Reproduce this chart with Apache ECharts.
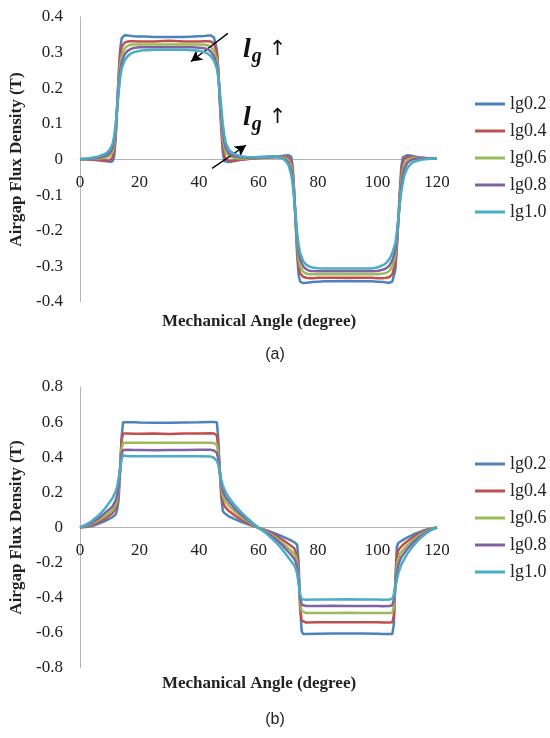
<!DOCTYPE html>
<html><head><meta charset="utf-8">
<script src="https://cdn.jsdelivr.net/npm/echarts@6/dist/echarts.min.js"></script>
<style>html,body{margin:0;padding:0;background:#fff}#c{width:550px;height:738px}</style>
</head><body><div id="c"></div>
<script>
const seriesNames = ['lg0.2', 'lg0.4', 'lg0.6', 'lg0.8', 'lg1.0'];
const seriesColors = ['#4F81BD', '#C0504D', '#9BBB59', '#8064A2', '#4BACC6'];

// ---- chart (a) ----
const xA = [0,2,4,6,8,9,10,11,11.5,12,12.5,13,13.5,14,15,16,17,18,20,22,25,30,
  35,38,40,42,43,44,45,46,46.5,47,47.5,48,48.5,49,50,51,52,54,56,58,60,
  62,64,66,68,69,70,71,71.5,72,72.5,73,73.5,74,75,76,77,78,80,82,85,90,
  95,98,100,102,103,104,105,106,106.5,107,107.5,108,108.5,109,110,111,112,114,116,118,120];
const aLg02 = [0,0,-0.001,-0.002,-0.004,-0.005,-0.006,-0.005,0.01,0.06,0.15,0.24,0.31,0.34,0.349,0.348,0.347,0.346,0.345,0.345,0.344,0.344,
  0.344,0.345,0.346,0.347,0.348,0.348,0.343,0.31,0.25,0.16,0.08,0.02,-0.004,-0.007,-0.007,-0.006,-0.004,-0.001,0.002,0.003,0.004,
  0.005,0.006,0.008,0.010,0.011,0.012,0.008,-0.02,-0.09,-0.18,-0.27,-0.325,-0.343,-0.347,-0.346,-0.345,-0.344,-0.343,-0.342,-0.342,-0.341,
  -0.342,-0.342,-0.343,-0.344,-0.345,-0.346,-0.342,-0.31,-0.25,-0.17,-0.09,-0.02,0.006,0.011,0.012,0.011,0.009,0.006,0.004,0.003,0.003];
const aLg04 = [0,0,0,-0.001,-0.003,-0.003,-0.002,0.006,0.025,0.07,0.15,0.23,0.29,0.316,0.328,0.331,0.332,0.332,0.331,0.331,0.331,0.333,
  0.331,0.331,0.331,0.332,0.332,0.331,0.326,0.30,0.25,0.17,0.095,0.04,0.012,0.001,-0.003,-0.004,-0.003,-0.001,0.001,0.003,0.004,
  0.005,0.006,0.007,0.008,0.008,0.006,-0.005,-0.03,-0.095,-0.175,-0.25,-0.3,-0.32,-0.329,-0.332,-0.333,-0.333,-0.332,-0.332,-0.332,-0.332,
  -0.332,-0.332,-0.333,-0.333,-0.332,-0.33,-0.322,-0.29,-0.24,-0.17,-0.1,-0.04,-0.01,0.002,0.006,0.007,0.007,0.005,0.004,0.003,0.003];
const aLg06 = [0,0.001,0.002,0.003,0.004,0.006,0.01,0.022,0.04,0.08,0.145,0.215,0.265,0.292,0.312,0.319,0.322,0.323,0.323,0.323,0.323,0.323,
  0.323,0.323,0.323,0.322,0.32,0.316,0.305,0.28,0.24,0.175,0.11,0.06,0.035,0.02,0.01,0.006,0.004,0.003,0.003,0.004,0.005,
  0.006,0.007,0.007,0.006,0.004,-0.002,-0.018,-0.045,-0.1,-0.17,-0.235,-0.278,-0.3,-0.315,-0.32,-0.322,-0.322,-0.322,-0.322,-0.322,-0.322,
  -0.322,-0.322,-0.322,-0.32,-0.318,-0.313,-0.3,-0.27,-0.23,-0.17,-0.11,-0.06,-0.03,-0.014,-0.002,0.003,0.004,0.004,0.003,0.003,0.003];
const aLg08 = [0.001,0.002,0.003,0.005,0.009,0.012,0.018,0.033,0.053,0.09,0.145,0.2,0.245,0.272,0.295,0.305,0.31,0.313,0.315,0.315,0.315,0.315,
  0.315,0.315,0.314,0.312,0.309,0.303,0.29,0.265,0.235,0.18,0.125,0.08,0.05,0.032,0.018,0.012,0.009,0.006,0.005,0.005,0.006,
  0.007,0.008,0.007,0.004,0.0,-0.008,-0.03,-0.058,-0.105,-0.165,-0.22,-0.258,-0.28,-0.3,-0.308,-0.312,-0.313,-0.314,-0.314,-0.314,-0.314,
  -0.314,-0.314,-0.313,-0.309,-0.305,-0.298,-0.283,-0.255,-0.22,-0.17,-0.12,-0.075,-0.045,-0.027,-0.01,-0.003,0.001,0.003,0.003,0.003,0.003];
const aLg10 = [0.002,0.003,0.005,0.008,0.014,0.019,0.027,0.045,0.066,0.1,0.145,0.19,0.228,0.255,0.278,0.29,0.297,0.301,0.305,0.307,0.308,0.308,
  0.308,0.307,0.305,0.301,0.297,0.29,0.278,0.255,0.23,0.19,0.145,0.1,0.068,0.047,0.028,0.02,0.015,0.009,0.007,0.006,0.007,
  0.008,0.009,0.008,0.003,-0.003,-0.014,-0.042,-0.07,-0.112,-0.16,-0.205,-0.24,-0.262,-0.285,-0.295,-0.3,-0.303,-0.305,-0.306,-0.306,-0.306,
  -0.306,-0.306,-0.303,-0.296,-0.29,-0.28,-0.262,-0.235,-0.205,-0.165,-0.125,-0.09,-0.065,-0.045,-0.025,-0.014,-0.007,-0.002,0.001,0.002,0.003];

// ---- chart (b) ----
const xB = [0,2,4,6,8,10,11,12,12.5,13,13.5,14,14.5,15,16,18,20,25,30,35,40,44,45,46,46.5,47,47.5,48,48.5,49,50,52,54,56,58,60,
  62,64,66,68,70,71,72,72.5,73,73.5,74,74.5,75,76,80,85,90,95,100,102,104,105,105.5,106,106.5,107,107.5,108,109,110,112,114,116,118,120];
const bLg02 = [0,0.003,0.008,0.02,0.033,0.05,0.06,0.075,0.1,0.16,0.33,0.52,0.6,0.601,0.6,0.599,0.598,0.597,0.596,0.598,0.599,0.601,0.601,0.6,0.5,0.32,0.17,0.095,0.082,0.075,0.064,0.048,0.034,0.021,0.009,-0.002,
  -0.012,-0.024,-0.037,-0.051,-0.066,-0.074,-0.083,-0.088,-0.098,-0.2,-0.45,-0.59,-0.606,-0.606,-0.605,-0.604,-0.603,-0.604,-0.605,-0.606,-0.606,-0.606,-0.55,-0.3,-0.11,-0.088,-0.082,-0.077,-0.066,-0.057,-0.04,-0.026,-0.014,-0.006,0];
const bLg04 = [0,0.007,0.016,0.03,0.046,0.068,0.083,0.11,0.14,0.2,0.35,0.5,0.535,0.536,0.535,0.534,0.534,0.535,0.532,0.535,0.535,0.536,0.535,0.525,0.45,0.32,0.2,0.145,0.125,0.113,0.095,0.068,0.047,0.03,0.013,-0.002,
  -0.014,-0.03,-0.047,-0.068,-0.093,-0.105,-0.118,-0.128,-0.16,-0.27,-0.45,-0.53,-0.54,-0.541,-0.54,-0.54,-0.539,-0.54,-0.54,-0.541,-0.541,-0.54,-0.5,-0.32,-0.17,-0.13,-0.118,-0.108,-0.092,-0.078,-0.055,-0.035,-0.019,-0.008,0];
const bLg06 = [0,0.01,0.022,0.04,0.06,0.085,0.1,0.13,0.16,0.22,0.33,0.45,0.482,0.483,0.483,0.482,0.482,0.482,0.482,0.482,0.482,0.482,0.48,0.47,0.42,0.32,0.23,0.18,0.16,0.145,0.125,0.09,0.062,0.04,0.018,-0.002,
  -0.017,-0.037,-0.06,-0.087,-0.118,-0.133,-0.15,-0.165,-0.2,-0.28,-0.42,-0.475,-0.486,-0.487,-0.487,-0.487,-0.486,-0.487,-0.487,-0.487,-0.487,-0.485,-0.45,-0.33,-0.22,-0.175,-0.155,-0.14,-0.12,-0.1,-0.07,-0.045,-0.025,-0.01,0];
const bLg08 = [0,0.013,0.028,0.05,0.077,0.105,0.122,0.155,0.185,0.24,0.33,0.42,0.441,0.443,0.442,0.441,0.441,0.44,0.441,0.441,0.442,0.442,0.438,0.425,0.39,0.32,0.255,0.21,0.188,0.172,0.148,0.108,0.075,0.048,0.022,-0.002,
  -0.02,-0.044,-0.07,-0.1,-0.138,-0.156,-0.178,-0.195,-0.23,-0.3,-0.4,-0.44,-0.446,-0.447,-0.447,-0.446,-0.447,-0.447,-0.447,-0.448,-0.447,-0.443,-0.41,-0.33,-0.26,-0.215,-0.19,-0.17,-0.145,-0.122,-0.085,-0.055,-0.03,-0.012,0];
const bLg10 = [0,0.017,0.037,0.065,0.1,0.145,0.17,0.205,0.235,0.28,0.34,0.39,0.412,0.409,0.406,0.405,0.405,0.405,0.406,0.405,0.405,0.404,0.397,0.38,0.355,0.31,0.272,0.24,0.218,0.2,0.172,0.127,0.09,0.058,0.027,-0.002,
  -0.025,-0.055,-0.087,-0.125,-0.17,-0.192,-0.215,-0.235,-0.265,-0.32,-0.38,-0.408,-0.415,-0.412,-0.41,-0.41,-0.409,-0.41,-0.41,-0.411,-0.41,-0.405,-0.38,-0.34,-0.3,-0.26,-0.235,-0.212,-0.18,-0.15,-0.105,-0.067,-0.037,-0.015,0];

// axis ranges / ticks
const xTicks = {min: 0, max: 120, interval: 20};
const yTicksA = {min: -0.4, max: 0.4, interval: 0.1};
const yTicksB = {min: -0.8, max: 0.8, interval: 0.2};

// annotation arrows in (a), in data coordinates [deg, T]
const arrowsA = [
  [[49.7, 0.354], [37.3, 0.275]],
  [[44.4, -0.025], [55.8, 0.040]]
];
const labelsA = [[54.6, 0.309], [54.6, 0.117]];

const seriesA = [aLg02, aLg04, aLg06, aLg08, aLg10];
const seriesB = [bLg02, bLg04, bLg06, bLg08, bLg10];

const serif = 'Liberation Serif';
const axisGray = '#b4b4b4';
const textCol = '#222';

const gridA = {left: 80, top: 17, width: 357, height: 285};
const gridB = {left: 80, top: 387, width: 357, height: 281};

// the x axis sits on the y = 0 line
function xAxisCfg(gi, g, t) {
  const zeroFromBottom = g.height * (0 - t.min) / (t.max - t.min);
  return {
    gridIndex: gi, type: 'value', min: xTicks.min, max: xTicks.max, interval: xTicks.interval,
    position: 'bottom', offset: -zeroFromBottom,
    axisLine: {show: true, onZero: false, lineStyle: {color: axisGray, width: 1}},
    axisTick: {show: false}, splitLine: {show: false},
    axisLabel: {margin: 15, fontFamily: serif, fontSize: 17, color: textCol}
  };
}
function yAxisCfg(gi, t) {
  return {
    gridIndex: gi, type: 'value', min: t.min, max: t.max, interval: t.interval,
    axisLine: {show: true, onZero: false, lineStyle: {color: axisGray, width: 1}},
    axisTick: {show: false}, splitLine: {show: false},
    axisLabel: {margin: 17, fontFamily: serif, fontSize: 17, color: textCol},
    name: 'Airgap Flux Density (T)', nameLocation: 'middle', nameGap: 50,
    nameTextStyle: {fontFamily: serif, fontWeight: 'bold', fontSize: 17, color: textCol}
  };
}

const series = [];
[seriesA, seriesB].forEach((set, gi) => {
  const xs = gi === 0 ? xA : xB;
  set.forEach((ys, k) => {
    series.push({
      name: seriesNames[k], type: 'line', xAxisIndex: gi, yAxisIndex: gi,
      data: xs.map((x, i) => [x, ys[i]]),
      symbol: 'none', showSymbol: false,
      lineStyle: {width: 2.5, color: seriesColors[k]},
      itemStyle: {color: seriesColors[k]},
      z: 2 + k
    });
  });
});

// annotations attached to an extra series in grid (a)
const richLbl = {
  l: {fontFamily: serif, fontWeight: 'bold', fontStyle: 'italic', fontSize: 28, color: '#111'},
  g: {fontFamily: serif, fontWeight: 'bold', fontStyle: 'italic', fontSize: 20, color: '#111', padding: [14, 0, 0, 1]},
  u: {fontFamily: 'DejaVu Sans', fontSize: 21, color: '#111', padding: [0, 0, 0, 7]}
};
series.push({
  name: 'annot', type: 'line', xAxisIndex: 0, yAxisIndex: 0, data: [], symbol: 'none',
  z: 10, silent: true,
  markLine: {
    silent: true, symbol: ['none', 'arrow'], symbolSize: [9, 11],
    lineStyle: {color: '#000', width: 1.3, type: 'solid'},
    label: {show: false},
    data: arrowsA.map(a => [{coord: a[0]}, {coord: a[1]}])
  },
  markPoint: {
    silent: true, symbol: 'circle', symbolSize: 1,
    itemStyle: {color: 'rgba(0,0,0,0)'},
    label: {show: true, position: 'right', distance: 0, formatter: '{l|l}{g|g}{u|↑}', rich: richLbl},
    data: labelsA.map(c => ({coord: c}))
  }
});

const legendCfg = (top) => ({
  orient: 'vertical', left: 470, top: top, itemWidth: 30, itemHeight: 3, itemGap: 9,
  icon: 'rect',
  data: seriesNames, selectedMode: false,
  textStyle: {fontFamily: serif, fontSize: 18, lineHeight: 17, color: textCol}
});

const chart = echarts.init(document.getElementById('c'), null, {renderer: 'canvas'});
chart.setOption({
  animation: false,
  backgroundColor: '#fff',
  grid: [gridA, gridB],
  xAxis: [xAxisCfg(0, gridA, yTicksA), xAxisCfg(1, gridB, yTicksB)],
  yAxis: [yAxisCfg(0, yTicksA), yAxisCfg(1, yTicksB)],
  legend: [legendCfg(90), legendCfg(450)],
  series: series,
  graphic: [
    {type: 'text', x: 259, y: 322, style: {text: 'Mechanical Angle (degree)', font: 'bold 17px "Liberation Serif"', fill: textCol, textAlign: 'center', textVerticalAlign: 'middle'}},
    {type: 'text', x: 275, y: 355, style: {text: '(a)', font: '16px "Liberation Sans"', fill: textCol, textAlign: 'center', textVerticalAlign: 'middle'}},
    {type: 'text', x: 259, y: 684, style: {text: 'Mechanical Angle (degree)', font: 'bold 17px "Liberation Serif"', fill: textCol, textAlign: 'center', textVerticalAlign: 'middle'}},
    {type: 'text', x: 275, y: 720, style: {text: '(b)', font: '16px "Liberation Sans"', fill: textCol, textAlign: 'center', textVerticalAlign: 'middle'}}
  ]
});
</script>
</body></html>
